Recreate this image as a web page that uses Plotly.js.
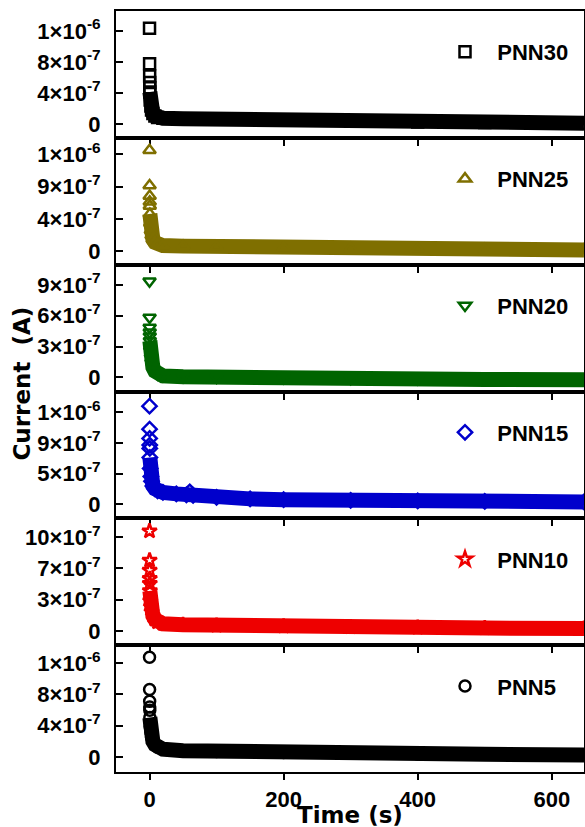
<!DOCTYPE html>
<html>
<head>
<meta charset="utf-8">
<script src="https://cdn.plot.ly/plotly-3.0.1.min.js"></script>
<style>
  html, body { margin: 0; padding: 0; background: #ffffff; }
  #chart { width: 585px; height: 827px; }
</style>
</head>
<body>
<div id="chart"></div>
<script>
// Sample names, top panel first
const samples = ["PNN30", "PNN25", "PNN20", "PNN15", "PNN10", "PNN5"];

// Early high-current readings right after the bias is applied (time in s, current in A)
const spikeTime = [0, 0.1, 0.2, 0.3, 0.4];
const spikePNN30 = [1.235e-6, 7.78e-7, 6.19e-7, 5.33e-7, 4.68e-7];
const spikePNN25 = [1.375e-6, 8.96e-7, 7.54e-7, 6.76e-7, 6.2e-7];
const spikePNN20 = [9.36e-7, 5.83e-7, 4.86e-7, 4.38e-7, 4.0e-7];
const spikePNN15 = [1.469e-6, 1.125e-6, 9.86e-7, 8.86e-7, 8.37e-7];
const spikePNN10 = [1.085e-6, 7.68e-7, 6.59e-7, 5.68e-7, 5.14e-7];
const spikePNN5  = [1.275e-6, 8.64e-7, 7.11e-7, 6.4e-7, 5.97e-7];

// Decay of the current over the whole run
const decayTime = [0.5, 1, 2, 3, 5, 8, 12, 20, 50, 100, 200, 300, 400, 500, 648];
const decayPNN30 = [4.13e-7, 3.1e-7, 2.32e-7, 1.81e-7, 1.35e-7, 1.03e-7, 8.4e-8, 7.4e-8, 6.7e-8, 6.1e-8, 4.8e-8, 3.6e-8, 2.6e-8, 1.8e-8, 9e-9];
const decayPNN25 = [5.1e-7, 3.86e-7, 2.9e-7, 2.21e-7, 1.65e-7, 1.24e-7, 9.7e-8, 8.0e-8, 7.3e-8, 6.6e-8, 5.5e-8, 4.4e-8, 3.6e-8, 2.9e-8, 2.2e-8];
const decayPNN20 = [3.54e-7, 2.58e-7, 1.9e-7, 1.42e-7, 9.8e-8, 6.0e-8, 3.1e-8, 1.35e-8, 4.8e-9, -1e-9, -6.8e-9, -1.25e-8, -1.64e-8, -2.03e-8, -2.4e-8];
const decayPNN10 = [4.37e-7, 3.28e-7, 2.62e-7, 2.08e-7, 1.64e-7, 1.26e-7, 9.8e-8, 7.9e-8, 6.8e-8, 6.0e-8, 5.1e-8, 4.4e-8, 3.8e-8, 3.3e-8, 2.7e-8];
const decayPNN5  = [5.04e-7, 3.9e-7, 3.14e-7, 2.5e-7, 1.99e-7, 1.55e-7, 1.23e-7, 9.8e-8, 7.9e-8, 6.9e-8, 5.6e-8, 4.6e-8, 3.8e-8, 3.2e-8, 2.5e-8];
// PNN15 shows a small jump near 60 s
const decayTimePNN15 = [0.5, 1, 2, 3, 5, 8, 12, 20, 40, 55, 60, 65, 100, 150, 200, 300, 400, 500, 648];
const decayPNN15 = [7.02e-7, 5.38e-7, 4.18e-7, 3.44e-7, 2.76e-7, 2.32e-7, 2.02e-7, 1.79e-7, 1.57e-7, 1.42e-7, 1.87e-7, 1.34e-7, 1.05e-7, 8.2e-8, 7.0e-8, 6.0e-8, 5.1e-8, 4.5e-8, 3.7e-8];

// Y tick positions and labels per panel
const tickValsPNN30 = [0, 4e-7, 8e-7, 1.2e-6];
const tickTextPNN30 = ["0", "4×10<sup>-7</sup>", "8×10<sup>-7</sup>", "1×10<sup>-6</sup>"];
const tickValsPNN25 = [0, 4.4e-7, 8.8e-7, 1.32e-6];
const tickTextPNN25 = ["0", "4×10<sup>-7</sup>", "9×10<sup>-7</sup>", "1×10<sup>-6</sup>"];
const tickValsPNN20 = [0, 3e-7, 6e-7, 9e-7];
const tickTextPNN20 = ["0", "3×10<sup>-7</sup>", "6×10<sup>-7</sup>", "9×10<sup>-7</sup>"];
const tickValsPNN15 = [0, 4.6e-7, 9.2e-7, 1.38e-6];
const tickTextPNN15 = ["0", "5×10<sup>-7</sup>", "9×10<sup>-7</sup>", "1×10<sup>-6</sup>"];
const tickValsPNN10 = [0, 3.4e-7, 6.8e-7, 1.02e-6];
const tickTextPNN10 = ["0", "3×10<sup>-7</sup>", "7×10<sup>-7</sup>", "10×10<sup>-7</sup>"];
const tickValsPNN5 = [0, 4e-7, 8e-7, 1.2e-6];
const tickTextPNN5 = ["0", "4×10<sup>-7</sup>", "8×10<sup>-7</sup>", "1×10<sup>-6</sup>"];

const xTickVals = [0, 200, 400, 600];

// Assemble panel descriptions from the arrays above
const panels = [
  {name: samples[0], color: "#000000", symbol: "square-open",        spike: spikePNN30, t: decayTime, i: decayPNN30, tv: tickValsPNN30, tt: tickTextPNN30, yr: [-1.8e-7, 1.458e-6]},
  {name: samples[1], color: "#7f6f00", symbol: "triangle-up-open",   spike: spikePNN25, t: decayTime, i: decayPNN25, tv: tickValsPNN25, tt: tickTextPNN25, yr: [-1.79e-7, 1.545e-6]},
  {name: samples[2], color: "#006400", symbol: "triangle-down-open", spike: spikePNN20, t: decayTime, i: decayPNN20, tv: tickValsPNN20, tt: tickTextPNN20, yr: [-1.38e-7, 1.097e-6]},
  {name: samples[3], color: "#0000cc", symbol: "diamond-open",       spike: spikePNN15, t: decayTimePNN15, i: decayPNN15, tv: tickValsPNN15, tt: tickTextPNN15, yr: [-2.09e-7, 1.688e-6]},
  {name: samples[4], color: "#ee0000", symbol: "star-open",          spike: spikePNN10, t: decayTime, i: decayPNN10, tv: tickValsPNN10, tt: tickTextPNN10, yr: [-1.53e-7, 1.224e-6]},
  {name: samples[5], color: "#000000", symbol: "circle-open",        spike: spikePNN5,  t: decayTime, i: decayPNN5,  tv: tickValsPNN5,  tt: tickTextPNN5,  yr: [-1.94e-7, 1.431e-6]}
];

const FONT = "Liberation Sans, Arial, sans-serif";
const TITLE_FONT = "DejaVu Sans, sans-serif";
const n = panels.length;
const traces = [];
const layout = {
  width: 585,
  height: 827,
  margin: {l: 116, r: 1, t: 11, b: 55},
  paper_bgcolor: "#ffffff",
  plot_bgcolor: "#ffffff",
  showlegend: true,
  font: {family: FONT, size: 22, color: "#000000", weight: "bold"},
  annotations: [
    {text: "Current  (A)", xref: "paper", yref: "paper", x: -0.2, y: 0.511,
     xanchor: "center", yanchor: "middle", textangle: -90, showarrow: false,
     font: {family: TITLE_FONT, size: 23, color: "#000000", weight: "bold"}},
    {text: "Time (s)", xref: "paper", yref: "paper", x: 0.5, y: -0.057,
     xanchor: "center", yanchor: "middle", showarrow: false,
     font: {family: TITLE_FONT, size: 23, color: "#000000", weight: "bold"}}
  ]
};

panels.forEach((p, k) => {
  const ax = k + 1;
  const xa = "x" + (ax === 1 ? "" : ax);
  const ya = "y" + (ax === 1 ? "" : ax);
  const legName = "legend" + (ax === 1 ? "" : ax);
  const marker = {symbol: p.symbol, size: 11, color: p.color, line: {color: p.color, width: 2.5}};

  // dense measurement band
  traces.push({
    x: p.t, y: p.i, xaxis: xa, yaxis: ya, type: "scatter", mode: "lines+markers",
    line: {color: p.color, width: 15}, marker: marker, showlegend: false, hoverinfo: "skip"
  });
  // first readings after switching on
  traces.push({
    x: spikeTime, y: p.spike, xaxis: xa, yaxis: ya, type: "scatter", mode: "markers",
    name: "\u00a0\u00a0" + p.name, marker: marker, legend: legName, showlegend: true
  });

  const top = 1 - k / n, bot = 1 - (k + 1) / n;
  layout["xaxis" + (ax === 1 ? "" : ax)] = {
    domain: [0, 1], anchor: ya, range: [-50, 648], matches: ax === 1 ? undefined : "x",
    tickvals: xTickVals, ticktext: xTickVals.map(String),
    showticklabels: ax === n, ticks: "outside", ticklen: 6, tickwidth: 2, tickcolor: "#000",
    ticklabelstandoff: 1,
    showline: true, linewidth: 2, linecolor: "#000", mirror: true,
    showgrid: false, zeroline: false,
    tickfont: {family: FONT, size: 22, color: "#000", weight: "bold"}
  };
  layout["yaxis" + (ax === 1 ? "" : ax)] = {
    domain: [bot, top], anchor: xa, range: p.yr,
    tickmode: "array", tickvals: p.tv, ticktext: p.tt,
    ticks: "inside", ticklen: 7, tickwidth: 2, tickcolor: "#000",
    ticklabelstandoff: 9,
    showline: true, linewidth: 2, linecolor: "#000", mirror: true,
    showgrid: false, zeroline: false,
    tickfont: {family: FONT, size: 22, color: "#000", weight: "bold"}
  };
  layout[legName] = {
    x: 0.703, y: top - 41 / 761, xref: "paper", yref: "paper",
    xanchor: "left", yanchor: "middle",
    bgcolor: "rgba(0,0,0,0)", borderwidth: 0, itemwidth: 30,
    font: {family: FONT, size: 22, color: "#000", weight: "bold"}
  };
});

Plotly.newPlot("chart", traces, layout, {staticPlot: true, displayModeBar: false});
</script>
</body>
</html>
